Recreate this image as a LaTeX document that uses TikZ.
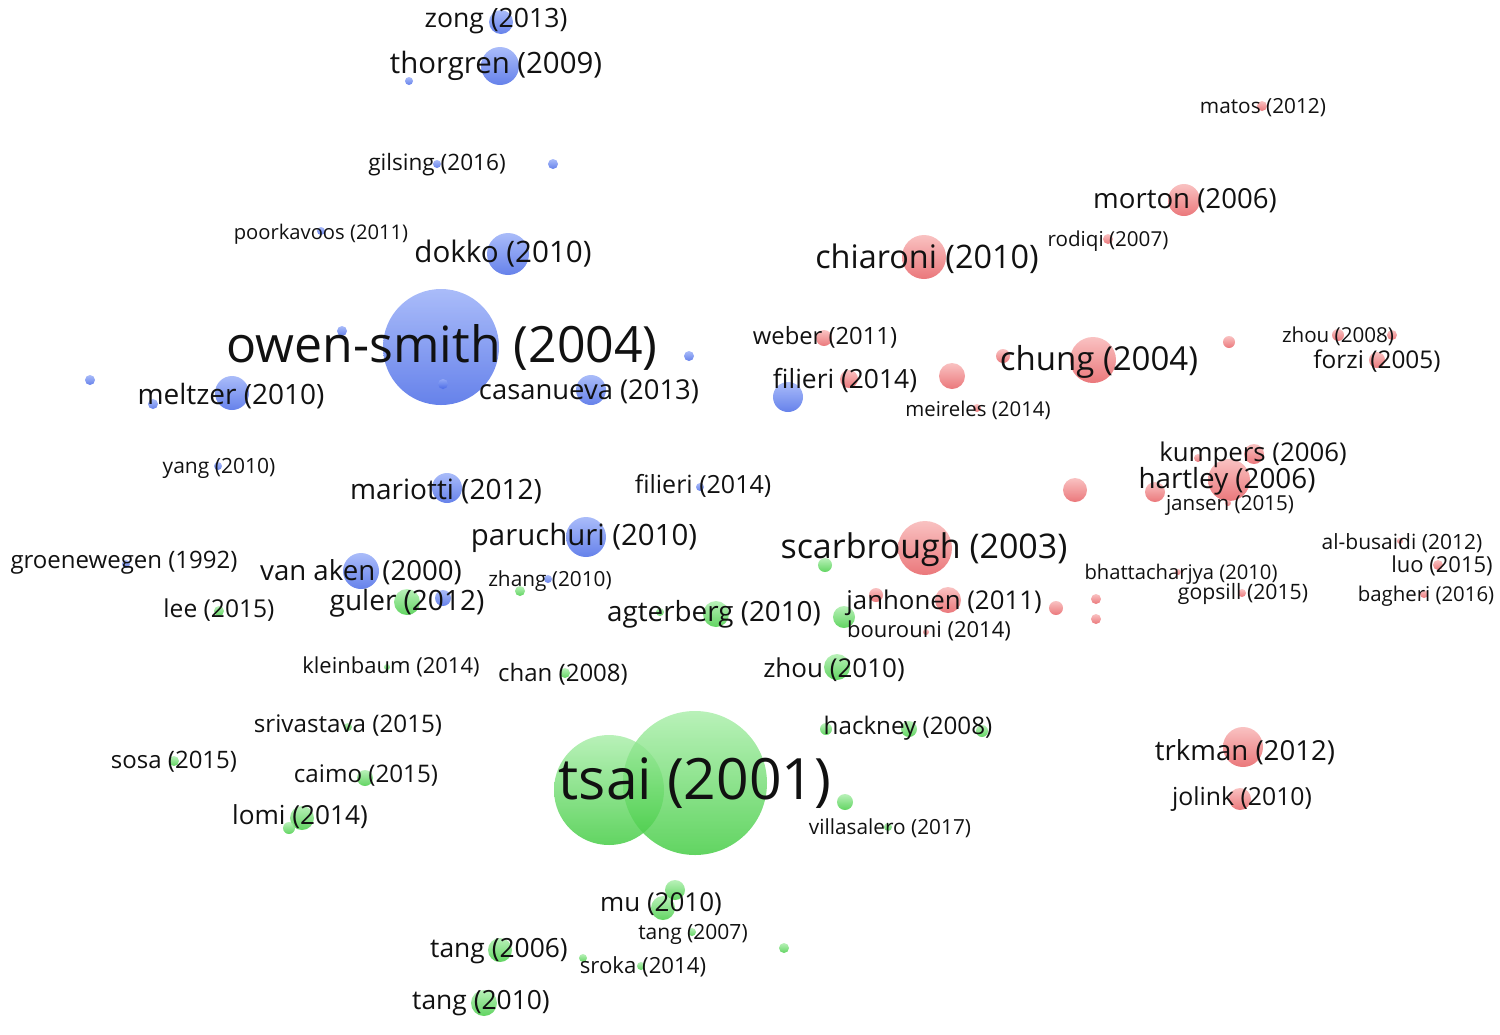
\documentclass[tikz,border=0pt]{standalone}
\usepackage{fontspec}
\setmainfont{Open Sans}
\usetikzlibrary{positioning}
\definecolor{bluetop}{HTML}{97ADF8}
\definecolor{bluebot}{HTML}{4466E6}
\definecolor{greentop}{HTML}{A9EEA9}
\definecolor{greenbot}{HTML}{3FCB3F}
\definecolor{redtop}{HTML}{F8B4B4}
\definecolor{redbot}{HTML}{E65A5E}
\definecolor{ink}{HTML}{111111}
\tikzset{
  bub/.style={circle,inner sep=0pt,minimum size=#1pt,fill opacity=0.82},
  bb/.style={bub=#1,top color=bluetop,bottom color=bluebot},
  gb/.style={bub=#1,top color=greentop,bottom color=greenbot},
  rb/.style={bub=#1,top color=redtop,bottom color=redbot},
  lbl/.style={inner sep=0pt,yshift=-1.5pt,text=ink,font=\fontsize{#1}{#1}\selectfont}
}

\begin{document}
\begin{tikzpicture}[x=0.5pt,y=-0.5pt]
  \useasboundingbox (0,0) rectangle (1500,1034);
  % blue cluster
  \node[bb=12] (b-zong) at (501,22) {};
  \node[bb=19] (b-thorgren) at (500,66) {};
  \node[bb=4] (b-t2) at (409,81) {};
  \node[bb=4] (b-gilsing) at (437,164) {};
  \node[bb=5] (b-g2) at (553,164) {};
  \node[bb=4] (b-poorkavoos) at (321,231) {};
  \node[bb=21] (b-dokko) at (508,254) {};
  \node[bb=58] (b-owen) at (441,347) {};
  \node[bb=5] (b-o2) at (342,331) {};
  \node[bb=5] (b-o3) at (443,384) {};
  \node[bb=5] (b-o4) at (689,356) {};
  \node[bb=5] (b-m2) at (90,380) {};
  \node[bb=17] (b-meltzer) at (232,393) {};
  \node[bb=5] (b-m3) at (153,404) {};
  \node[bb=15] (b-casanueva) at (591,390) {};
  \node[bb=4] (b-yang) at (218,466) {};
  \node[bb=15] (b-mariotti) at (447,488) {};
  \node[bb=4] (b-filieri) at (700,487) {};
  \node[bb=20] (b-paruchuri) at (586,537) {};
  \node[bb=4] (b-groenewegen) at (126,564) {};
  \node[bb=18] (b-vanaken) at (361,571) {};
  \node[bb=4] (b-zhang) at (548,579) {};
  \node[bb=8] (b-guler) at (443,598) {};
  \node[bb=15] (b-f2) at (788,397) {};
  % green cluster
  \node[gb=13] (g-guler) at (407,602) {};
  \node[gb=5] (g-z2) at (520,591) {};
  \node[gb=5] (g-lee) at (219,611) {};
  \node[gb=13] (g-agterberg) at (716,614) {};
  \node[gb=4] (g-a2) at (660,612) {};
  \node[gb=11] (g-b2) at (844,617) {};
  \node[gb=7] (g-s2) at (825,565) {};
  \node[gb=3] (g-kleinbaum) at (387,667) {};
  \node[gb=5] (g-chan) at (565,673) {};
  \node[gb=13] (g-zhou) at (837,667) {};
  \node[gb=4] (g-srivastava) at (348,727) {};
  \node[gb=5] (g-sosa) at (174,761) {};
  \node[gb=8] (g-caimo) at (365,778) {};
  \node[gb=12] (g-lomi) at (302,818) {};
  \node[gb=6] (g-l2) at (289,828) {};
  \node[gb=55] (g-tsai1) at (609,790) {};
  \node[gb=72] (g-tsai2) at (695,783) {};
  \node[gb=6] (g-h1) at (826,729) {};
  \node[gb=8] (g-hackney) at (909,729) {};
  \node[gb=6] (g-h3) at (982,731) {};
  \node[gb=8] (g-v2) at (845,802) {};
  \node[gb=4] (g-villasalero) at (888,827) {};
  \node[gb=5] (g-x1) at (784,948) {};
  \node[gb=10] (g-mu1) at (675,890) {};
  \node[gb=12] (g-mu) at (663,908) {};
  \node[gb=4] (g-tang07) at (692,932) {};
  \node[gb=12] (g-tang06) at (500,950) {};
  \node[gb=4] (g-sroka1) at (583,958) {};
  \node[gb=4] (g-sroka) at (641,966) {};
  \node[gb=13] (g-tang10) at (484,1003) {};
  % red cluster
  \node[rb=5] (r-matos) at (1262,106) {};
  \node[rb=16] (r-morton) at (1184,200) {};
  \node[rb=5] (r-rodiqi) at (1108,239) {};
  \node[rb=22] (r-chiaroni) at (924,257) {};
  \node[rb=8] (r-weber) at (824,338) {};
  \node[rb=6] (r-zhou1) at (1338,335) {};
  \node[rb=5] (r-zhou2) at (1392,335) {};
  \node[rb=6] (r-c3) at (1229,342) {};
  \node[rb=23] (r-chung) at (1093,360) {};
  \node[rb=7] (r-c2) at (1003,356) {};
  \node[rb=9] (r-filieri) at (849,379) {};
  \node[rb=13] (r-f2) at (952,376) {};
  \node[rb=4] (r-meireles) at (977,408) {};
  \node[rb=8] (r-forzi) at (1377,360) {};
  \node[rb=10] (r-kumpers) at (1254,454) {};
  \node[rb=4] (r-k2) at (1198,458) {};
  \node[rb=21] (r-hartley) at (1229,480) {};
  \node[rb=10] (r-h2) at (1155,492) {};
  \node[rb=3] (r-jansen) at (1228,503) {};
  \node[rb=12] (r-x1) at (1075,490) {};
  \node[rb=27] (r-scarbrough) at (925,548) {};
  \node[rb=13] (r-janhonen) at (948,600) {};
  \node[rb=7] (r-j2) at (876,595) {};
  \node[rb=3] (r-bourouni) at (926,632) {};
  \node[rb=7] (r-x2) at (1056,608) {};
  \node[rb=5] (r-x3) at (1096,599) {};
  \node[rb=5] (r-x4) at (1096,619) {};
  \node[rb=3] (r-bhatta) at (1178,572) {};
  \node[rb=4] (r-gopsill) at (1242,593) {};
  \node[rb=3] (r-albusaidi) at (1400,541) {};
  \node[rb=5] (r-luo) at (1438,565) {};
  \node[rb=4] (r-bagheri) at (1424,594) {};
  \node[rb=20] (r-trkman) at (1243,747) {};
  \node[rb=11] (r-jolink) at (1240,799) {};
  % labels
  \node[lbl=13.3] (l-zong) at (496,18) {zong (2013)};
  \node[lbl=14.7] (l-thorgren) at (496,63) {thorgren (2009)};
  \node[lbl=11.3] (l-gilsing) at (437,162) {gilsing (2016)};
  \node[lbl=10.1] (l-poorkavoos) at (321,231) {poorkavoos (2011)};
  \node[lbl=14.8] (l-dokko) at (503,251) {dokko (2010)};
  \node[lbl=25] (l-owen) at (442,344) {owen-smith (2004)};
  \node[lbl=14] (l-meltzer) at (231,393) {meltzer (2010)};
  \node[lbl=13.7] (l-casanueva) at (589,389) {casanueva (2013)};
  \node[lbl=10.5] (l-yang) at (219,465) {yang (2010)};
  \node[lbl=14] (l-mariotti) at (446,488) {mariotti (2012)};
  \node[lbl=12.5] (l-filieri-b) at (703,483) {filieri (2014)};
  \node[lbl=14.7] (l-paruchuri) at (584,535) {paruchuri (2010)};
  \node[lbl=12] (l-groenewegen) at (124,560) {groenewegen (1992)};
  \node[lbl=13.8] (l-vanaken) at (361,569) {van aken (2000)};
  \node[lbl=10.4] (l-zhang) at (550,578) {zhang (2010)};
  \node[lbl=12.3] (l-lee) at (219,607) {lee (2015)};
  \node[lbl=14] (l-guler) at (407,600) {guler (2012)};
  \node[lbl=13.9] (l-agterberg) at (714,611) {agterberg (2010)};
  \node[lbl=11] (l-kleinbaum) at (391,664) {kleinbaum (2014)};
  \node[lbl=12] (l-chan) at (563,671) {chan (2008)};
  \node[lbl=12.1] (l-srivastava) at (348,723) {srivastava (2015)};
  \node[lbl=12] (l-sosa) at (174,759) {sosa (2015)};
  \node[lbl=12.1] (l-caimo) at (366,773) {caimo (2015)};
  \node[lbl=13.1] (l-lomi) at (300,814) {lomi (2014)};
  \node[lbl=28.5] (l-tsai) at (695,780) {tsai (2001)};
  \node[lbl=13] (l-mu) at (661,901) {mu (2010)};
  \node[lbl=10.5] (l-tang07) at (693,931) {tang (2007)};
  \node[lbl=13.2] (l-tang06) at (499,948) {tang (2006)};
  \node[lbl=11.1] (l-sroka) at (643,964) {sroka (2014)};
  \node[lbl=13.2] (l-tang10) at (481,1000) {tang (2010)};
  \node[lbl=12.1] (l-hackney) at (908,725) {hackney (2008)};
  \node[lbl=10.4] (l-villasalero) at (890,825) {villasalero (2017)};
  \node[lbl=13] (l-zhou10) at (834,667) {zhou (2010)};
  \node[lbl=12.9] (l-janhonen) at (944,600) {janhonen (2011)};
  \node[lbl=11] (l-bourouni) at (929,628) {bourouni (2014)};
  \node[lbl=17] (l-scarbrough) at (924,547) {scarbrough (2003)};
  \node[lbl=13.2] (l-filieri-r) at (845,377) {filieri (2014)};
  \node[lbl=11.9] (l-weber) at (825,334) {weber (2011)};
  \node[lbl=10.2] (l-meireles) at (978,407) {meireles (2014)};
  \node[lbl=16.2] (l-chiaroni) at (927,256) {chiaroni (2010)};
  \node[lbl=16.5] (l-chung) at (1099,359) {chung (2004)};
  \node[lbl=13.8] (l-morton) at (1185,198) {morton (2006)};
  \node[lbl=10.3] (l-rodiqi) at (1108,238) {rodiqi (2007)};
  \node[lbl=10.4] (l-matos) at (1263,105) {matos (2012)};
  \node[lbl=10.3] (l-zhou08) at (1338,333) {zhou (2008)};
  \node[lbl=12.2] (l-forzi) at (1377,358) {forzi (2005)};
  \node[lbl=12.9] (l-kumpers) at (1253,452) {kumpers (2006)};
  \node[lbl=13.9] (l-hartley) at (1227,478) {hartley (2006)};
  \node[lbl=10.3] (l-jansen) at (1230,502) {jansen (2015)};
  \node[lbl=10.5] (l-albusaidi) at (1402,540) {al-busaidi (2012)};
  \node[lbl=11] (l-luo) at (1442,563) {luo (2015)};
  \node[lbl=10.1] (l-bhatta) at (1181,571) {bhattacharjya (2010)};
  \node[lbl=10.6] (l-gopsill) at (1243,591) {gopsill (2015)};
  \node[lbl=10.2] (l-bagheri) at (1426,593) {bagheri (2016)};
  \node[lbl=13.8] (l-trkman) at (1245,749) {trkman (2012)};
  \node[lbl=12.4] (l-jolink) at (1242,796) {jolink (2010)};
\end{tikzpicture}
\end{document}
